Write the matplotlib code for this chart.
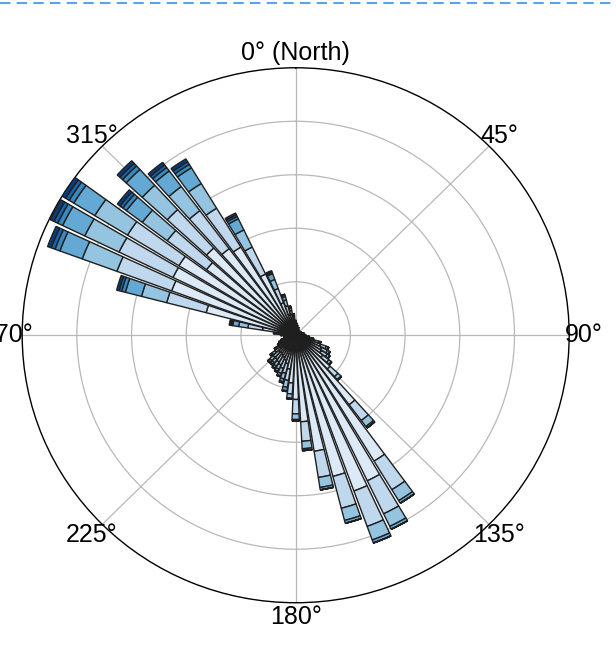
import numpy as np
import matplotlib
matplotlib.use('Agg')
import matplotlib.pyplot as plt
from matplotlib.lines import Line2D

# 64 direction sectors, 5.625 deg apart, starting at North
directions = np.arange(0, 360, 5.625)

# frequency (%) per speed bin, one value per direction sector
speed_bin_1 = [0.27, 0.26, 0.22, 0.18, 0.18, 0.13, 0.13, 0.13, 0.11, 0.11, 0.13, 0.13, 0.16, 0.18, 0.18, 0.20,
               0.28, 0.37, 0.50, 0.71, 0.97, 1.05, 1.10, 1.24, 1.71, 3.25, 5.51, 6.04, 6.20, 5.45, 4.39, 3.24,
               2.40, 1.79, 1.28, 1.10, 0.99, 0.92, 0.88, 0.84, 0.84, 0.71, 0.55, 0.44, 0.40, 0.33, 0.26, 0.26,
               0.33, 0.40, 1.23, 3.38, 4.83, 4.98, 5.00, 4.08, 4.43, 4.05, 3.86, 2.54, 1.29, 0.79, 0.55, 0.40]
speed_bin_2 = [0.12, 0.11, 0.09, 0.08, 0.08, 0.06, 0.06, 0.06, 0.05, 0.05, 0.06, 0.06, 0.06, 0.08, 0.08, 0.08,
               0.06, 0.09, 0.11, 0.16, 0.22, 0.24, 0.25, 0.28, 0.39, 0.74, 1.25, 1.37, 1.41, 1.23, 0.99, 0.73,
               0.54, 0.41, 0.43, 0.37, 0.33, 0.31, 0.29, 0.28, 0.28, 0.24, 0.18, 0.15, 0.13, 0.11, 0.09, 0.09,
               0.11, 0.18, 0.54, 1.49, 2.13, 2.19, 2.20, 1.80, 1.95, 1.78, 1.70, 1.12, 0.57, 0.35, 0.24, 0.18]
speed_bin_3 = [0.08, 0.07, 0.06, 0.04, 0.04, 0.03, 0.03, 0.03, 0.02, 0.02, 0.03, 0.03, 0.04, 0.04, 0.04, 0.05,
               0.03, 0.03, 0.04, 0.06, 0.08, 0.09, 0.10, 0.11, 0.15, 0.28, 0.48, 0.52, 0.54, 0.47, 0.38, 0.28,
               0.21, 0.16, 0.26, 0.22, 0.20, 0.18, 0.18, 0.17, 0.17, 0.14, 0.11, 0.09, 0.08, 0.07, 0.05, 0.05,
               0.07, 0.12, 0.34, 0.95, 1.35, 1.39, 1.40, 1.14, 1.24, 1.13, 1.08, 0.71, 0.36, 0.22, 0.15, 0.11]
speed_bin_4 = [0.05, 0.00, 0.00, 0.00, 0.00, 0.00, 0.00, 0.00, 0.00, 0.00, 0.00, 0.00, 0.00, 0.00, 0.00, 0.00,
               0.00, 0.01, 0.01, 0.02, 0.02, 0.02, 0.02, 0.02, 0.03, 0.07, 0.11, 0.12, 0.12, 0.11, 0.09, 0.07,
               0.05, 0.03, 0.13, 0.11, 0.10, 0.09, 0.09, 0.08, 0.08, 0.07, 0.06, 0.04, 0.04, 0.03, 0.03, 0.03,
               0.03, 0.07, 0.22, 0.61, 0.87, 0.90, 0.90, 0.73, 0.80, 0.73, 0.69, 0.46, 0.23, 0.14, 0.10, 0.07]
speed_bin_5 = [0.03, 0.00, 0.00, 0.00, 0.00, 0.00, 0.00, 0.00, 0.00, 0.00, 0.00, 0.00, 0.00, 0.00, 0.00, 0.00,
               0.00, 0.00, 0.00, 0.00, 0.00, 0.00, 0.00, 0.00, 0.00, 0.00, 0.00, 0.00, 0.00, 0.00, 0.00, 0.00,
               0.00, 0.00, 0.03, 0.04, 0.03, 0.04, 0.03, 0.03, 0.03, 0.02, 0.02, 0.02, 0.01, 0.01, 0.01, 0.01,
               0.01, 0.04, 0.05, 0.14, 0.19, 0.20, 0.20, 0.16, 0.18, 0.16, 0.15, 0.10, 0.05, 0.08, 0.06, 0.05]
speed_bin_6 = [0.00, 0.00, 0.00, 0.00, 0.00, 0.00, 0.00, 0.00, 0.00, 0.00, 0.00, 0.00, 0.00, 0.00, 0.00, 0.00,
               0.00, 0.00, 0.00, 0.00, 0.00, 0.00, 0.00, 0.00, 0.00, 0.00, 0.00, 0.00, 0.00, 0.00, 0.00, 0.00,
               0.00, 0.00, 0.00, 0.00, 0.00, 0.00, 0.00, 0.00, 0.00, 0.00, 0.00, 0.00, 0.00, 0.00, 0.00, 0.00,
               0.00, 0.00, 0.04, 0.10, 0.15, 0.15, 0.15, 0.13, 0.13, 0.12, 0.12, 0.07, 0.04, 0.00, 0.00, 0.00]
speed_bin_7 = [0.00, 0.00, 0.00, 0.00, 0.00, 0.00, 0.00, 0.00, 0.00, 0.00, 0.00, 0.00, 0.00, 0.00, 0.00, 0.00,
               0.00, 0.00, 0.00, 0.00, 0.00, 0.00, 0.00, 0.00, 0.00, 0.00, 0.00, 0.00, 0.00, 0.00, 0.00, 0.00,
               0.00, 0.00, 0.00, 0.00, 0.00, 0.00, 0.00, 0.00, 0.00, 0.00, 0.00, 0.00, 0.00, 0.00, 0.00, 0.00,
               0.00, 0.00, 0.04, 0.09, 0.14, 0.15, 0.15, 0.12, 0.13, 0.12, 0.12, 0.07, 0.03, 0.00, 0.00, 0.00]

angle_labels = ['0° (North)', '45°', '90°', '135°', '180°', '225°', '270°', '315°']

bins = [speed_bin_1, speed_bin_2, speed_bin_3, speed_bin_4, speed_bin_5, speed_bin_6, speed_bin_7]
colors = plt.cm.Blues([0.14, 0.27, 0.40, 0.52, 0.66, 0.80, 0.95])

plt.rcParams['font.family'] = ['Liberation Sans', 'DejaVu Sans']

fig = plt.figure(figsize=(6.16, 6.58), dpi=100)
ax = fig.add_axes([0.036, 0.084, 0.888, 0.813], projection='polar')
ax.set_aspect('auto')
ax.set_theta_zero_location('N')
ax.set_theta_direction(-1)

theta = np.deg2rad(directions)
width = np.deg2rad(5.625) * 0.86
offset = np.zeros(len(directions))
for vals, c in zip(bins, colors):
    vals = np.array(vals)
    ax.bar(theta, vals, width=width, bottom=offset, color=c,
           edgecolor='#1f1f1f', linewidth=1.0, zorder=3)
    offset = offset + vals

rmax = offset.max()
ax.set_ylim(0, rmax)
ax.set_yticks(np.linspace(0, rmax, 6)[1:-1])
ax.set_yticklabels([])
ax.set_xticks(np.deg2rad(np.arange(0, 360, 45)))
ax.set_xticklabels(angle_labels, fontsize=18)
ax.tick_params(axis='x', pad=0)
ax.grid(color='#b8b8b8', linewidth=0.9)
ax.spines['polar'].set_linewidth(1.0)

# dashed frame line along the top edge
fig.add_artist(Line2D([0, 1], [0.9954, 0.9954], transform=fig.transFigure,
                      color='#5ea3e6', linewidth=1.5, linestyle=(0, (5, 3))))

fig.savefig('out.png', dpi=100)
